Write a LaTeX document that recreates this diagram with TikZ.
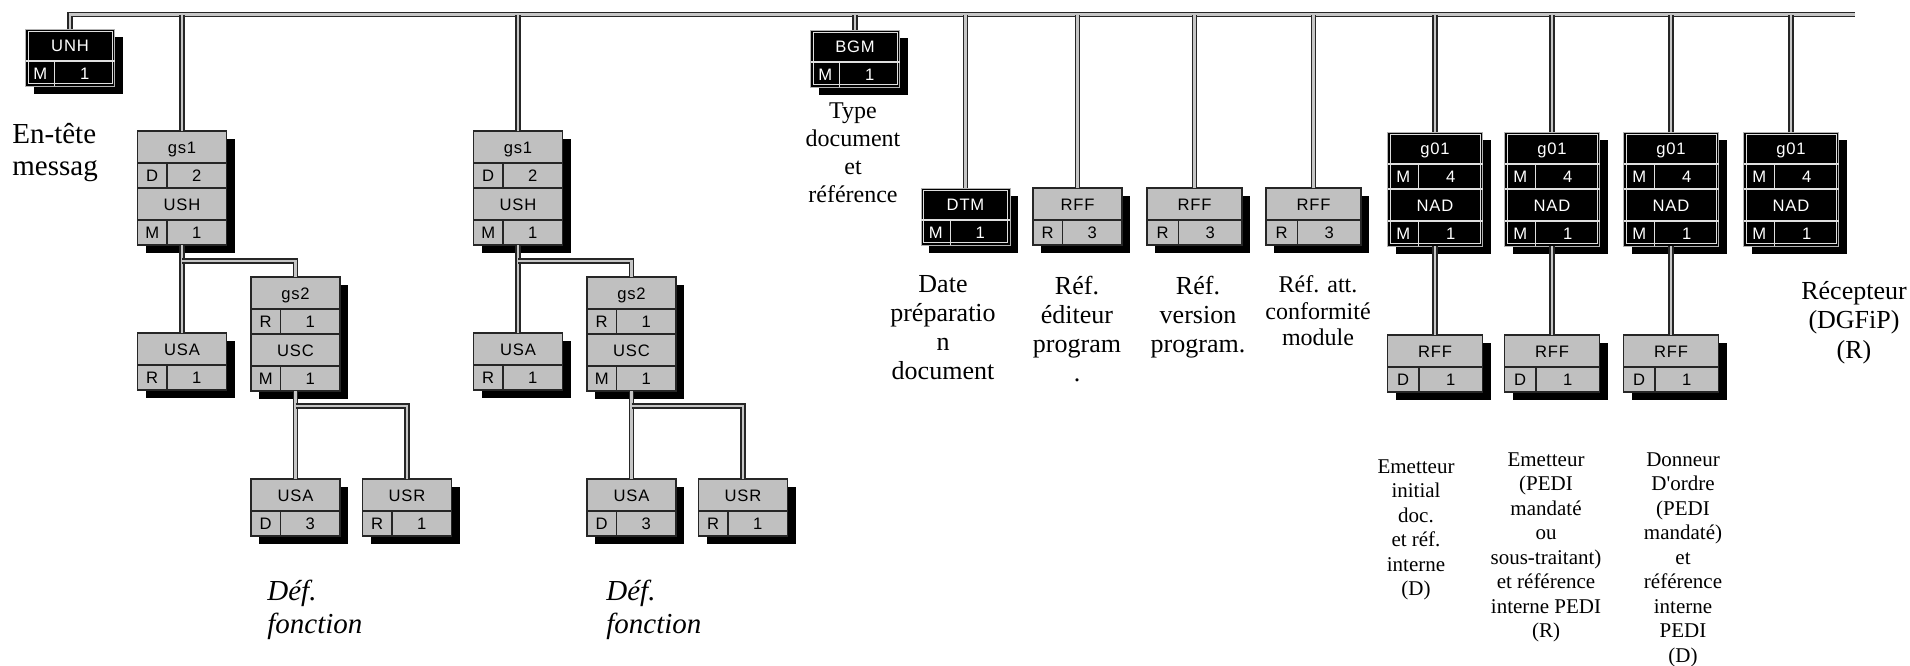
\documentclass[tikz,border=0pt]{standalone}
\usepackage{fontspec}
\setmainfont{Liberation Serif}
\newfontfamily\segfont[LetterSpace=5]{Liberation Sans}
\definecolor{boxgray}{HTML}{C0C0C0}

\tikzset{
  blk box/.style={fill=black, draw=gray!60, line width=0.5pt, inner sep=0pt, outer sep=0pt},
  gry box/.style={fill=boxgray, draw=black!85, line width=0.75pt, inner sep=0pt, outer sep=0pt},
  blk inset/.style={draw=gray!25, line width=0.5pt},
  gry inset/.style={draw=none},
  blk rule/.style={draw=gray!25, line width=0.55pt},
  gry rule/.style={draw=black!85, line width=0.65pt},
  segtxt/.style={font=\segfont\fontsize{8.3}{10}\selectfont, inner sep=0pt, text height=6pt, text depth=0pt},
  blk txt/.style={segtxt, text=white},
  gry txt/.style={segtxt, text=black},
  segshadow/.style={fill=black},
  dbl/.style={draw=black!85, line width=0.75pt, double=gray!45, double distance=1.1pt},
  lbl/.style={align=center, inner sep=0pt, anchor=north}
}

% half width of a segment box (in px)
\def\hw{44.5}

% two-row segment box: name, top centre, scheme, tag, status, repeat
\newcommand{\segtwo}[6]{%
  \begin{scope}[shift={(#2)}]
    \fill[segshadow] (-\hw+8,8) rectangle (\hw+8,65);
    \node[#3 box, minimum width=\hw pt, minimum height=28.5pt, anchor=north] (#1) at (0,0) {};
    \draw[#3 inset] (-\hw+2.5,2.5) rectangle (\hw-2.5,54.5);
    \draw[#3 rule] (-\hw,32) -- (\hw,32) (-0.34*\hw,32) -- (-0.34*\hw,57);
    \node[#3 txt] at (0,16) {#4};
    \node[#3 txt] at (-0.67*\hw,44.5) {#5};
    \node[#3 txt] at (0.33*\hw,44.5) {#6};
  \end{scope}}

% four-row group box
\newcommand{\segfour}[9]{%
  \begin{scope}[shift={(#2)}]
    \fill[segshadow] (-\hw+8,8) rectangle (\hw+8,122);
    \node[#3 box, minimum width=\hw pt, minimum height=57pt, anchor=north] (#1) at (0,0) {};
    \draw[#3 inset] (-\hw+2.5,2.5) rectangle (\hw-2.5,111.5);
    \draw[#3 rule] (-\hw,32) -- (\hw,32) (-\hw,57) -- (\hw,57) (-\hw,89) -- (\hw,89)
      (-0.34*\hw,32) -- (-0.34*\hw,57) (-0.34*\hw,89) -- (-0.34*\hw,114);
    \node[#3 txt] at (0,16) {#4};
    \node[#3 txt] at (-0.67*\hw,44.5) {#5};
    \node[#3 txt] at (0.33*\hw,44.5) {#6};
    \node[#3 txt] at (0,73) {#7};
    \node[#3 txt] at (-0.67*\hw,101.5) {#8};
    \node[#3 txt] at (0.33*\hw,101.5) {#9};
  \end{scope}}

\begin{document}
\begin{tikzpicture}[x=0.5pt, y=-0.5pt]

\useasboundingbox (0,0) rectangle (1910,665);

\segtwo{unh}{70,29}{blk}{UNH}{M}{1}

\segfour{gsa}{182,131}{gry}{gs1}{D}{2}{USH}{M}{1}
\segtwo{usaa}{182,333}{gry}{USA}{R}{1}
\segfour{gsb}{295.5,277}{gry}{gs2}{R}{1}{USC}{M}{1}
\segtwo{usab}{295.5,479}{gry}{USA}{D}{3}
\segtwo{usra}{407,479}{gry}{USR}{R}{1}

\segfour{gsc}{518,131}{gry}{gs1}{D}{2}{USH}{M}{1}
\segtwo{usac}{518,333}{gry}{USA}{R}{1}
\segfour{gsd}{631.5,277}{gry}{gs2}{R}{1}{USC}{M}{1}
\segtwo{usad}{631.5,479}{gry}{USA}{D}{3}
\segtwo{usrb}{743,479}{gry}{USR}{R}{1}

\segtwo{bgm}{855,30}{blk}{BGM}{M}{1}
\segtwo{dtm}{965.5,188}{blk}{DTM}{M}{1}
\segtwo{rffa}{1077.5,188}{gry}{RFF}{R}{3}

\def\hw{47.5}
\segtwo{rffb}{1194.5,188}{gry}{RFF}{R}{3}
\segtwo{rffc}{1313.5,188}{gry}{RFF}{R}{3}

\segfour{ga}{1435,132}{blk}{g01}{M}{4}{NAD}{M}{1}
\segfour{gb}{1552,132}{blk}{g01}{M}{4}{NAD}{M}{1}
\segfour{gc}{1671,132}{blk}{g01}{M}{4}{NAD}{M}{1}
\segfour{gd}{1791,132}{blk}{g01}{M}{4}{NAD}{M}{1}

\segtwo{rffd}{1435,335}{gry}{RFF}{D}{1}
\segtwo{rffe}{1552,335}{gry}{RFF}{D}{1}
\segtwo{rfff}{1671,335}{gry}{RFF}{D}{1}

% connectors
\coordinate (busend) at (1855,14.5);
\draw[dbl] (unh.north) |- (busend);
\foreach \n in {gsa,gsc,bgm,dtm,rffa,rffb,rffc,ga,gb,gc,gd}
  \draw[dbl] (\n.north) -- (\n.north |- busend);

\draw[dbl] (gsa.south) -- (usaa.north);
\draw[dbl] (gsa.south) ++(0,16) -| (gsb.north);
\draw[dbl] (gsb.south) -- (usab.north);
\draw[dbl] (gsb.south) ++(0,15) -| (usra.north);

\draw[dbl] (gsc.south) -- (usac.north);
\draw[dbl] (gsc.south) ++(0,16) -| (gsd.north);
\draw[dbl] (gsd.south) -- (usad.north);
\draw[dbl] (gsd.south) ++(0,15) -| (usrb.north);

\draw[dbl] (ga.south) -- (rffd.north);
\draw[dbl] (gb.south) -- (rffe.north);
\draw[dbl] (gc.south) -- (rfff.north);

% labels
\node[lbl, anchor=north west, align=left, font=\fontsize{14.5}{16}\selectfont] (enh) at (12,123) {En-tête\\messag};
\node[lbl, font=\fontsize{12}{14}\selectfont] (typ) at (853,102) {Type\\document\\et\\référence};
\node[lbl, font=\fontsize{13}{14.5}\selectfont] (dat) at (943,275.5) {Date\\préparatio\\n\\document};
\node[lbl, font=\fontsize{13}{14.5}\selectfont] (edi) at (1077,275.5) {Réf.\\éditeur\\program\\.};
\node[lbl, font=\fontsize{13}{14.5}\selectfont] (ver) at (1198,275.5) {Réf.\\version\\program.};
\node[lbl, font=\fontsize{12}{13.25}\selectfont] (att) at (1318,275.5) {Réf. att.\\conformité\\module};
\node[lbl, font=\fontsize{13}{14.75}\selectfont] (rec) at (1854,281) {Récepteur\\(DGFiP)\\(R)};

\node[lbl, anchor=north west, align=left, font=\itshape\fontsize{14.5}{16.5}\selectfont] (dfa) at (267,580) {Déf.\\fonction};
\node[lbl, anchor=north west, align=left, font=\itshape\fontsize{14.5}{16.5}\selectfont] (dfb) at (606,580) {Déf.\\fonction};

\node[lbl, font=\fontsize{10.5}{12.25}\selectfont] (ema) at (1416,459) {Emetteur\\initial\\doc.\\et réf.\\interne\\(D)};
\node[lbl, font=\fontsize{10.5}{12.25}\selectfont] (emb) at (1546,452) {Emetteur\\(PEDI\\mandaté\\ou\\sous-traitant)\\et référence\\interne PEDI\\(R)};
\node[lbl, font=\fontsize{10.5}{12.25}\selectfont] (don) at (1683,452) {Donneur\\D\textquotesingle ordre\\(PEDI\\mandaté)\\et\\référence\\interne\\PEDI\\(D)};

\end{tikzpicture}
\end{document}
